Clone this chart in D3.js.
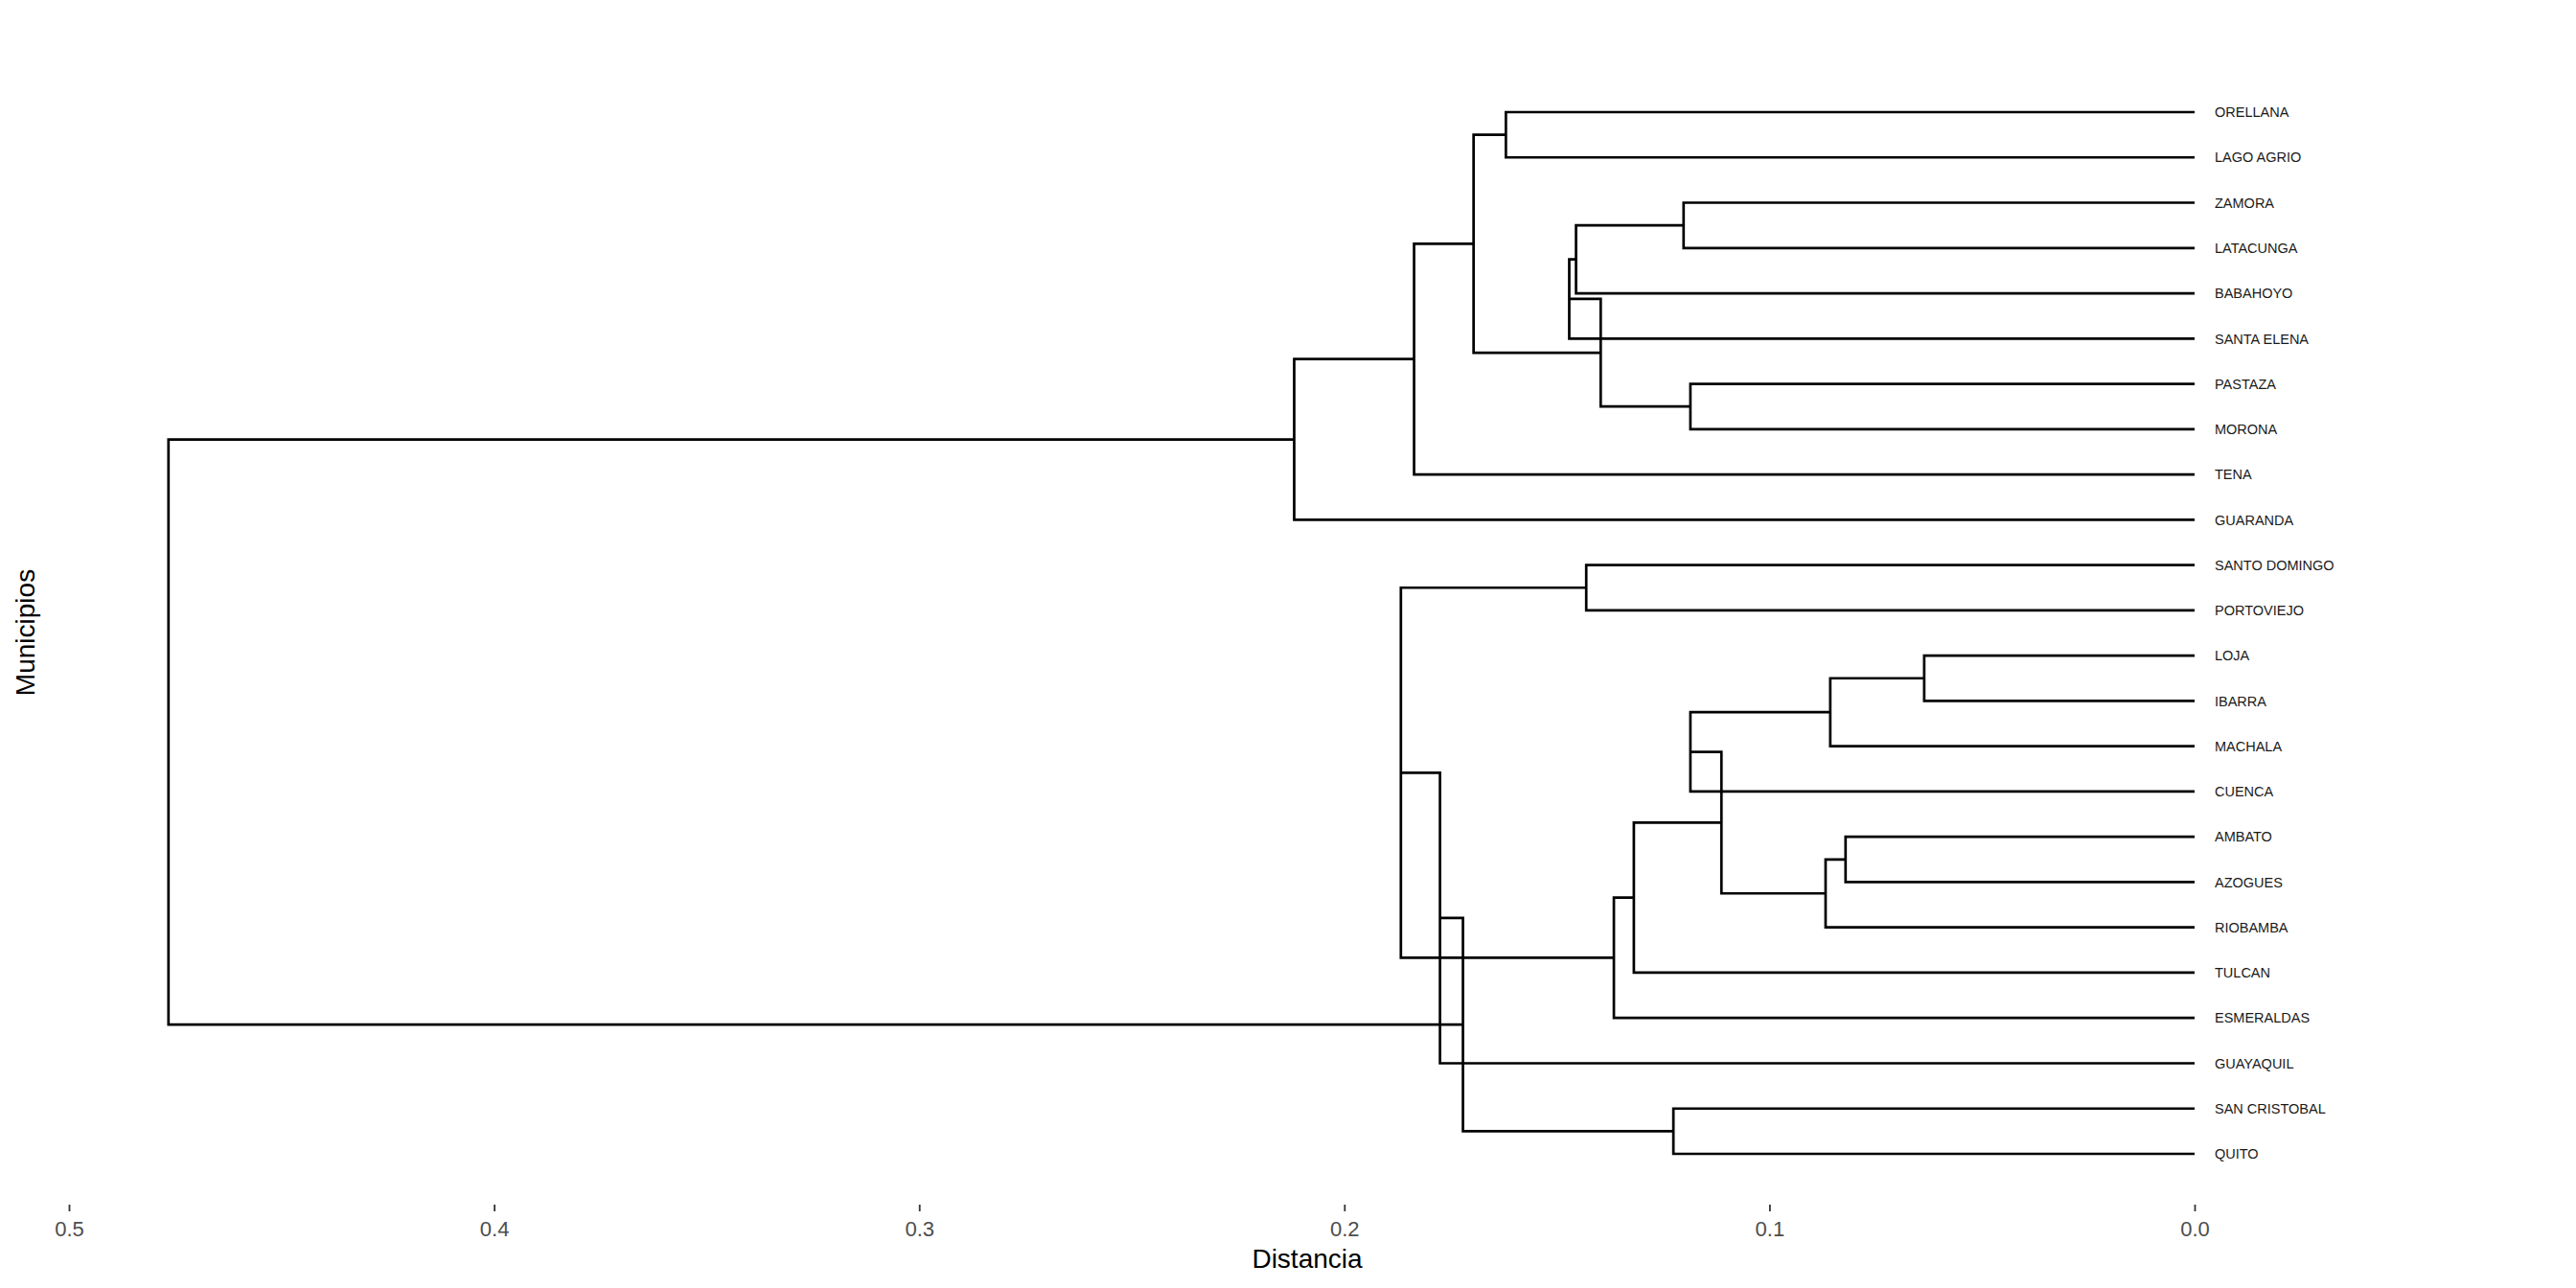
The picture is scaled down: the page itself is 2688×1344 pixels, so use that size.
<!DOCTYPE html>
<html>
<head>
<meta charset="utf-8">
<script src="https://cdn.jsdelivr.net/npm/d3@7"></script>
<style>
  html, body { margin: 0; padding: 0; background: #ffffff; }
  svg { display: block; }
</style>
</head>
<body>
<script>
// Leaf labels in the order drawn (top to bottom)
const leaves = ["ORELLANA", "LAGO AGRIO", "ZAMORA", "LATACUNGA", "BABAHOYO", "SANTA ELENA",
  "PASTAZA", "MORONA", "TENA", "GUARANDA", "SANTO DOMINGO", "PORTOVIEJO", "LOJA", "IBARRA",
  "MACHALA", "CUENCA", "AMBATO", "AZOGUES", "RIOBAMBA", "TULCAN", "ESMERALDAS", "GUAYAQUIL",
  "SAN CRISTOBAL", "QUITO"];

// hclust-style merges: negative = leaf (1-based index in leaves), positive = earlier merge (1-based)
const mergeLeft  = [-13, -17, 1, 2, 3, 5, -7, -3, -23, 6, 10, -11, 8, 13, 14, -1, 16, 12, 18, 19, 17, 21, 22];
const mergeRight = [-14, -18, -15, -19, -16, 4, -8, -4, -24, -20, -21, -12, -5, -6, 7, -2, 15, 11, -22, 9, -9, -10, 20];
const mergeHeight = [0.0636, 0.0821, 0.0857, 0.0868, 0.1186, 0.1113, 0.1186, 0.1202, 0.1226, 0.1319,
  0.1366, 0.1431, 0.1455, 0.1471, 0.1397, 0.162, 0.1696, 0.1867, 0.1775, 0.1721, 0.1836, 0.2118, 0.4766];

const xTicks = [0.5, 0.4, 0.3, 0.2, 0.1, 0.0];
const xTitle = "Distancia";
const yTitle = "Municipios";

const W = 2688, H = 1344;
const svg = d3.select("body").append("svg").attr("width", W).attr("height", H)
  .style("font-family", "'Liberation Sans', Arial, sans-serif");

const x = d3.scaleLinear().domain([0, 0.5]).range([2290, 72]);
const y = d3.scaleLinear().domain([1, leaves.length]).range([117, 1204]);

// compute node positions
const nodes = [];
function pos(id) {
  if (id < 0) return { y: -id, h: 0 };
  return nodes[id - 1];
}
for (let i = 0; i < mergeHeight.length; i++) {
  const a = pos(mergeLeft[i]), b = pos(mergeRight[i]);
  nodes.push({ y: (a.y + b.y) / 2, h: mergeHeight[i], a, b });
}

const g = svg.append("g").attr("fill", "none").attr("stroke", "#000").attr("stroke-width", 2.7);

nodes.forEach(n => {
  g.append("path").attr("d",
    `M${x(n.a.h)},${y(n.a.y)}H${x(n.h)}V${y(n.b.y)}H${x(n.b.h)}`)
    .attr("stroke-linejoin", "miter").attr("stroke-linecap", "butt");
});

// leaf labels
svg.append("g").selectAll("text").data(leaves).join("text")
  .attr("x", x(0) + 21)
  .attr("y", (d, i) => y(i + 1))
  .attr("dy", "0.36em")
  .attr("font-size", 14.5)
  .attr("fill", "#1a1a1a")
  .text(d => d);

// x axis
const axis = d3.axisBottom(x).tickValues(xTicks).tickFormat(d3.format(".1f"))
  .tickSize(7).tickPadding(10);
const ax = svg.append("g").attr("transform", "translate(0,1257)").call(axis);
ax.select(".domain").remove();
ax.selectAll(".tick line").attr("stroke", "#333333").attr("stroke-width", 1.8);
ax.selectAll(".tick text").attr("fill", "#4d4d4d").attr("font-size", 22)
  .style("font-family", "'Liberation Sans', Arial, sans-serif");

// axis titles
svg.append("text").attr("x", 1364).attr("y", 1323).attr("text-anchor", "middle")
  .attr("font-size", 28).attr("fill", "#000").text(xTitle);
svg.append("text").attr("transform", "translate(36,660) rotate(-90)").attr("text-anchor", "middle")
  .attr("font-size", 28).attr("fill", "#000").text(yTitle);
</script>
</body>
</html>
